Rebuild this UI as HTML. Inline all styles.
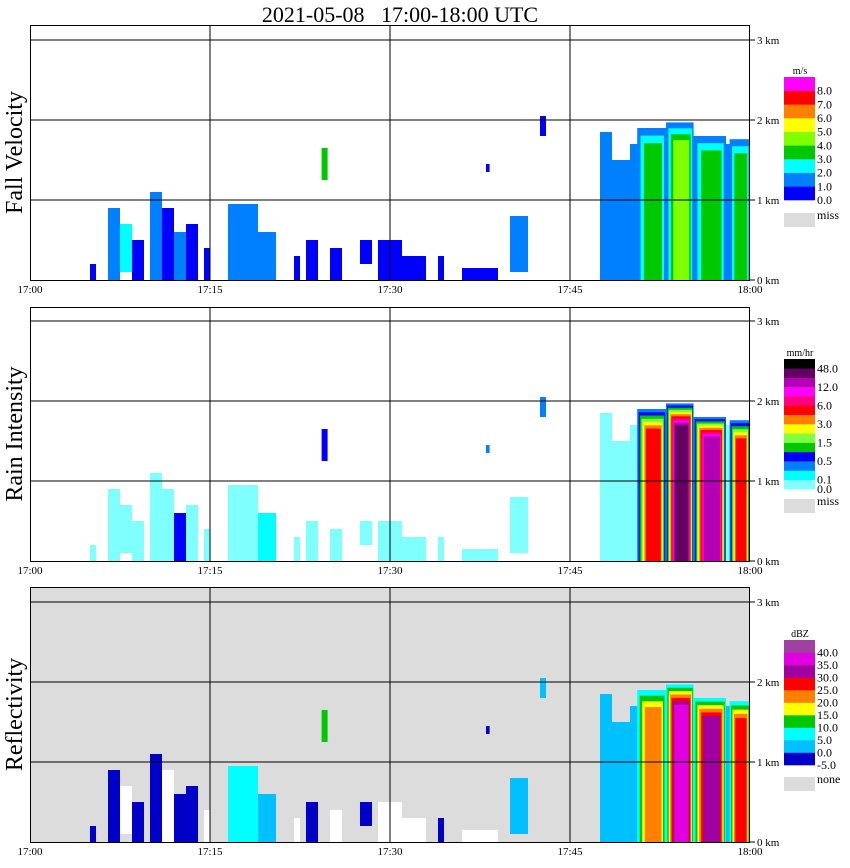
<!DOCTYPE html>
<html><head><meta charset="utf-8"><style>
body{margin:0;background:#fff;}
svg{display:block;font-family:"Liberation Serif",serif;}
</style></head><body>
<svg id="chart" width="850" height="868" viewBox="0 0 850 868" xmlns="http://www.w3.org/2000/svg">
<text x="400" y="22" font-size="22" text-anchor="middle" xml:space="preserve">2021-05-08   17:00-18:00 UTC</text>
</svg>
<script>
// ---- data ----
const panelTitles = ["Fall Velocity","Rain Intensity","Reflectivity"];
const timeTicks = ["17:00","17:15","17:30","17:45","18:00"];
const tickMinutes = [0,15,30,45,60];
const heightTicks = ["0 km","1 km","2 km","3 km"];
const heightValues = [0,1,2,3];
const fvColors = ["#0000ff","#0080ff","#00ffff","#00c800","#80ff00","#ffff00","#ff8000","#ff0000","#ff00ff"];
const fvLabels = ["0.0","1.0","2.0","3.0","4.0","5.0","6.0","7.0","8.0"];
const rrColors = ["#80ffff","#00ffff","#0080ff","#0000ff","#00c800","#80ff40","#ffff00","#ff8000","#ff0000","#ff0080","#ff00ff","#b400b4","#640064","#000000"];
const rrLabels = ["0.0","0.1","","0.5","","1.5","","3.0","","6.0","","12.0","","48.0"];
const dbzColors = ["#0000c8","#00c0ff","#00ffff","#00c800","#ffff00","#ff8000","#ff0000","#a000a0","#e000e0","#a040a0"];
const dbzLabels = ["-5.0","0.0","5.0","10.0","15.0","20.0","25.0","30.0","35.0","40.0"];
// early scattered echoes: start min, end min, bottom km, top km
const echoT0 = [5,6.5,7.5,8.5,10,11,12,13,14.5,16.5,19,22,23,25,27.5,29,31,34,36,40,42.5,24.3,38];
const echoT1 = [5.5,7.5,8.5,9.5,11,12,13,14,15,19,20.5,22.5,24,26,28.5,31,33,34.5,39,41.5,43,24.8,38.3];
const echoH0 = [0,0,0.1,0,0,0,0,0,0,0,0,0,0,0,0.2,0,0,0,0,0.1,1.8,1.25,1.35];
const echoH1 = [0.2,0.9,0.7,0.5,1.1,0.9,0.6,0.7,0.4,0.95,0.6,0.3,0.5,0.4,0.5,0.5,0.3,0.3,0.15,0.8,2.05,1.65,1.45];
const echoFv = [0,1,2,0,1,0,1,0,0,1,1,0,0,0,0,0,0,0,0,1,0,3,0];
const echoRr = [0,0,0,0,0,0,3,0,0,0,1,0,0,0,0,0,0,0,0,0,2,3,2];
const echoDbz = [0,0,-1,0,0,-1,0,0,-1,2,1,-1,0,-1,0,-1,-1,0,-1,1,1,3,0];
// storm cells after 17:48
const cellT0 = [50.6,53,55.3,58.3];
const cellT1 = [53,55.3,58,60];
const cellTop = [1.9,1.97,1.8,1.76];
const cellFvPeak = [3,4,3,3];
const cellRrPeak = [8,12,11,8];
const cellDbzPeak = [5,8,7,6];
// storm envelope (light echo) : start, end, top
const envT0 = [47.5,48.5,50];
const envT1 = [48.5,50,60];
const envTop = [1.85,1.5,1.7];

// ---- drawing ----
const svg = document.getElementById('chart');
const NS = "http://www.w3.org/2000/svg";
const X0 = 30, X1 = 750, PXKM = 80;
const panelTops = [25,307,587];
const panelBases = [280,561,842];
const X = t => X0 + t*(X1-X0)/60;
function el(tag, attrs, parent){const e=document.createElementNS(NS,tag);for(const k in attrs)e.setAttribute(k,attrs[k]);(parent||svg).appendChild(e);return e;}
function rect(g,t0,t1,h0,h1,base,color){
  return el('rect',{x:X(t0),y:base-h1*PXKM,width:X(t1)-X(t0),height:(h1-h0)*PXKM,fill:color},g);
}
const legendCfg = [
  {colors:fvColors,labels:fvLabels,unit:"m/s",top:77,bot:200,miss:"miss",missY:213},
  {colors:rrColors,labels:rrLabels,unit:"mm/hr",top:359,bot:489,miss:"miss",missY:499},
  {colors:dbzColors,labels:dbzLabels,unit:"dBZ",top:640,bot:765,miss:"none",missY:777}
];
for(let p=0;p<3;p++){
  const top=panelTops[p], base=panelBases[p];
  const g = el('g',{});
  
  
  if(p===2){ el('rect',{x:X0,y:top,width:X1-X0,height:base-top,fill:'#dcdcdc'},g); }
  const marks = el('g',{},g);
  
  
  for(let i=0;i<echoT0.length;i++){
    let c;
    if(p===0) c=fvColors[echoFv[i]];
    else if(p===1) c=rrColors[echoRr[i]];
    else c = echoDbz[i]<0 ? '#ffffff' : dbzColors[echoDbz[i]];
    const r=rect(marks,echoT0[i],echoT1[i],echoH0[i],echoH1[i],base,c);
    
    
  }
  for(let i=0;i<envT0.length;i++){
    const c = p===0?fvColors[1]:p===1?rrColors[0]:dbzColors[1];
    const r=rect(marks,envT0[i],envT1[i],0,envTop[i],base,c);
    
    
  }
  for(let i=0;i<cellT0.length;i++){
    const peak = p===0?cellFvPeak[i]:p===1?cellRrPeak[i]:cellDbzPeak[i];
    const cols = p===0?fvColors:p===1?rrColors:dbzColors;
    const start = p===0?1:p===1?2:2;
    const n = peak-start+1;
    const w = cellT1[i]-cellT0[i];
    for(let k=start;k<=peak;k++){
      const f=(k-start)/Math.max(n,1);
      const inset = f*w*0.35;
      const r=rect(marks,cellT0[i]+inset,cellT1[i]-inset*0.6,0,cellTop[i]*(1-f*0.15),base,cols[k]);
      
      
    }
  }
  for(let j=1;j<tickMinutes.length-1;j++){
    const l=el('line',{x1:X(tickMinutes[j]),x2:X(tickMinutes[j]),y1:top,y2:base,stroke:'#000','stroke-width':1},g);
    
    
  }
  for(let j=0;j<heightValues.length;j++){
    const y=base-heightValues[j]*PXKM;
    if(j>0){
      const l=el('line',{x1:X0,x2:X1,y1:y,y2:y,stroke:'#000','stroke-width':1},g);
      
      
    }
    el('line',{x1:X1,x2:X1+5,y1:y,y2:y,stroke:'#000'},g);
    const t=el('text',{x:X1+7,y:y+4,'font-size':11},g);
    t.textContent=heightTicks[j];
    
    
  }
  const fr=el('rect',{x:X0+0.5,y:top+0.5,width:X1-X0-1,height:base-top,fill:'none',stroke:'#000'},g);
  
  
  for(let j=0;j<tickMinutes.length;j++){
    const t=el('text',{x:X(tickMinutes[j]),y:base+13,'font-size':11,'text-anchor':'middle'},g);
    t.textContent=timeTicks[j];
    
    
  }
  const cy=(top+base)/2;
  const yt=el('text',{x:0,y:0,'font-size':24,'text-anchor':'middle',transform:`translate(22,${cy}) rotate(-90)`},g);
  yt.textContent=panelTitles[p];
  
  
  const L=legendCfg[p];
  const lg=el('g',{},g);
  
  
  const n=L.colors.length, h=(L.bot-L.top)/n;
  const u=el('text',{x:800,y:L.top-3,'font-size':10,'text-anchor':'middle'},lg);
  u.textContent=L.unit;
  
  
  for(let k=0;k<n;k++){
    const y=L.bot-(k+1)*h;
    const r=el('rect',{x:784,y:y,width:31,height:h+0.3,fill:L.colors[k]},lg);
    
    
    if(L.labels[k]){
      const t=el('text',{x:817,y:L.bot-k*h+4,'font-size':12},lg);
      t.textContent=L.labels[k];
      
      
    }
  }
  const mr=el('rect',{x:784,y:L.missY,width:31,height:14,fill:'#dcdcdc'},lg);
  
  
  const mt=el('text',{x:817,y:L.missY+6,'font-size':12},lg);
  mt.textContent=L.miss;
  
  
}
</script>
</body></html>
